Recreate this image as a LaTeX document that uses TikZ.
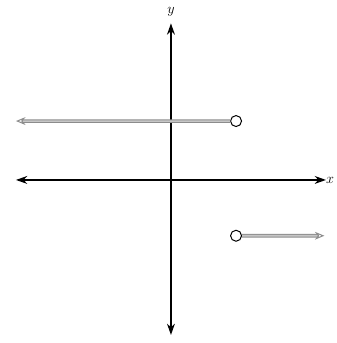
\documentclass[tikz,border=0pt]{standalone}
\usepackage{tikz}
\usetikzlibrary{arrows.meta,positioning}
\tikzset{
  tengely/.style={line width=1.5pt,{Stealth[length=4mm,width=2.8mm]}-{Stealth[length=4mm,width=2.8mm]}},
  sugar/.style={draw=gray!90,double=gray!45,double distance=1.6pt,line width=1pt,
    -{Stealth[open,length=3.4mm,width=2.8mm]}},
  ures/.style={circle,draw,fill=white,line width=1pt,inner sep=0pt,minimum size=3.9mm},
}

\begin{document}
\begin{tikzpicture}[font=\Large,scale=0.55]
  \useasboundingbox (-11.03,-10.52) rectangle (10.65,11.61);
  % axes
  \coordinate (xbal) at (-10,0);
  \coordinate (xjobb) at (10,0);
  \coordinate (ylent) at (0,-10);
  \coordinate (yfent) at (0,10.1);
  \draw[tengely] (xbal) -- (xjobb);
  \draw[tengely] (ylent) -- (yfent);
  \node[right=-1pt of xjobb,inner sep=1pt] (xcim) {$x$};
  \node[above=4pt of yfent] (ycim) {$y$};
  % the two rays
  \node[ures] (p1) at (4.2,3.8) {};
  \node[ures] (p2) at (4.2,-3.6) {};
  \coordinate (v1) at (-10,3.8);
  \coordinate (v2) at (9.9,-3.6);
  \draw[sugar] (p1) -- (v1);
  \draw[sugar] (p2) -- (v2);
\end{tikzpicture}
\end{document}
